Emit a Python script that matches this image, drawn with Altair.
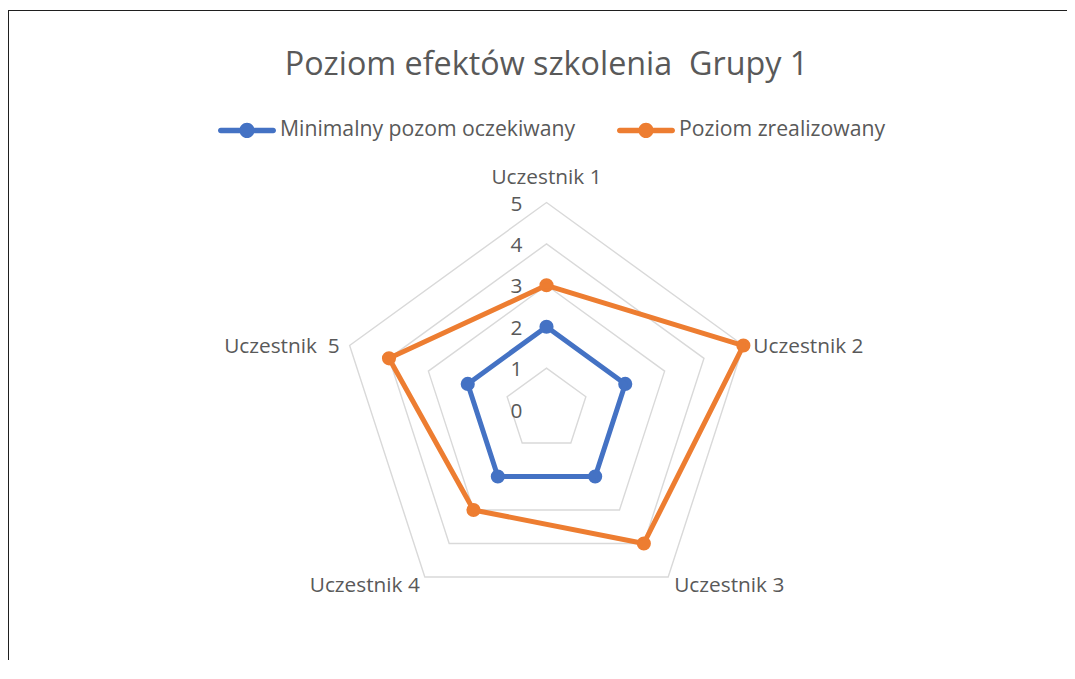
import altair as alt
import pandas as pd

# ---------------- data ----------------
categories = ["Uczestnik 1", "Uczestnik 2", "Uczestnik 3", "Uczestnik 4", "Uczestnik \u00a05"]
series_names = ["Minimalny pozom oczekiwany", "Poziom zrealizowany"]
minimal = [2, 2, 2, 2, 2]
realized = [3, 5, 4, 3, 4]
levels = [0, 1, 2, 3, 4, 5]
title_text = "Poziom efektów szkolenia \u00a0Grupy 1"
colors = ["#4472C4", "#ED7D31"]

# ---------------- layout ----------------
N = len(categories)
W, H = 1059, 650
CX, CY = 538.5, 399.5   # radar centre inside plot area (px)
K = 41.4                # px per unit
FONT = "Open Sans"
TXT = "#595959"
LBL = 20.8

xdom = [-CX / K, (W - CX) / K]
ydom = [-(H - CY) / K, CY / K]

rows = []
for s, vals in zip(series_names, [minimal, realized]):
    for i, (c, v) in enumerate(zip(categories, vals)):
        rows.append({"series": s, "cat": c, "idx": i, "value": v})
df = pd.DataFrame(rows)

grid_df = pd.DataFrame([{"level": l, "idx": i} for l in levels if l > 0 for i in range(N)])
cat_df = pd.DataFrame({"cat": categories, "idx": list(range(N)), "r": [max(levels)] * N})
lev_df = pd.DataFrame({"level": levels})

X = alt.X("x:Q", scale=alt.Scale(domain=xdom, nice=False, zero=False), axis=None)
Y = alt.Y("y:Q", scale=alt.Scale(domain=ydom, nice=False, zero=False), axis=None)


def polar(chart, rfield):
    return chart.transform_calculate(
        x=f"datum.{rfield} * sin(2 * PI * datum.idx / {N})",
        y=f"datum.{rfield} * cos(2 * PI * datum.idx / {N})",
    )


grid = polar(alt.Chart(grid_df), "level").mark_line(
    interpolate="linear-closed", stroke="#D9D9D9", strokeWidth=1.4
).encode(x=X, y=Y, detail="level:N", order="idx:Q")

# legend symbol: line with a round marker (coords in [-1, 1])
sym_path = (
    "M-0.905,-0.095 H0.905 A0.095,0.095 0 0,1 0.905,0.095 H-0.905 "
    "A0.095,0.095 0 0,1 -0.905,-0.095 Z "
    "M0.26,0 A0.26,0.26 0 1,1 -0.26,0 A0.26,0.26 0 1,1 0.26,0 Z"
)
legend = alt.Legend(
    title=None, orient="none", legendX=210, legendY=91, direction="horizontal",
    symbolType=sym_path, symbolSize=3364, symbolStrokeWidth=0, symbolOpacity=1,
    labelFont=FONT, labelFontSize=21.2, labelColor=TXT, labelOffset=4,
    labelLimit=1000, columnPadding=41, padding=0,
)
color = alt.Color("series:N", scale=alt.Scale(domain=series_names, range=colors), legend=legend)

points = polar(alt.Chart(df), "value").mark_point(
    filled=True, size=200, opacity=1
).encode(x=X, y=Y, color=color)

lines = polar(alt.Chart(df), "value").mark_line(
    interpolate="linear-closed", strokeWidth=5, strokeJoin="round"
).encode(x=X, y=Y, color=color, order="idx:Q")

# category labels
label_style = {
    0: dict(align="center", dx=0, dy=-19),
    1: dict(align="left", dx=10, dy=7),
    2: dict(align="left", dx=6, dy=15),
    3: dict(align="right", dx=-5, dy=15),
    4: dict(align="right", dx=-10, dy=7),
}
cat_layers = []
for i in range(N):
    st = label_style[i]
    cat_layers.append(
        polar(alt.Chart(cat_df), "r").transform_filter(f"datum.idx == {i}").mark_text(
            font=FONT, fontSize=LBL, color=TXT, baseline="alphabetic", **st
        ).encode(x=X, y=Y, text="cat:N")
    )

# value labels on the vertical axis
val_labels = alt.Chart(lev_df).transform_calculate(x="0", y="datum.level").mark_text(
    font=FONT, fontSize=LBL, color=TXT, align="right", baseline="alphabetic", dx=-24, dy=8
).encode(x=X, y=Y, text="level:Q")

title = alt.Chart(pd.DataFrame({"t": [title_text]})).mark_text(
    font=FONT, fontSize=32.3, color=TXT, align="center", baseline="alphabetic"
).encode(x=alt.value(CX), y=alt.value(65), text="t:N")

frame_df = pd.DataFrame({"k": [0]})
top_rule = alt.Chart(frame_df).mark_rule(color="#1f1f1f", strokeWidth=1).encode(
    x=alt.value(0), x2=alt.value(W), y=alt.value(0.5))
left_rule = alt.Chart(frame_df).mark_rule(color="#1f1f1f", strokeWidth=1).encode(
    x=alt.value(0.5), y=alt.value(0), y2=alt.value(H + 2))

chart = alt.layer(
    top_rule, left_rule, grid, points, lines, *cat_layers, val_labels, title
).properties(
    width=W, height=H,
    padding={"left": 0, "top": 2, "right": 0, "bottom": 0},
    autosize=alt.AutoSizeParams(type="none"),
    background="white",
).configure_view(stroke=None)

chart.save("out.html", embed_options={"renderer": "svg", "actions": False})
